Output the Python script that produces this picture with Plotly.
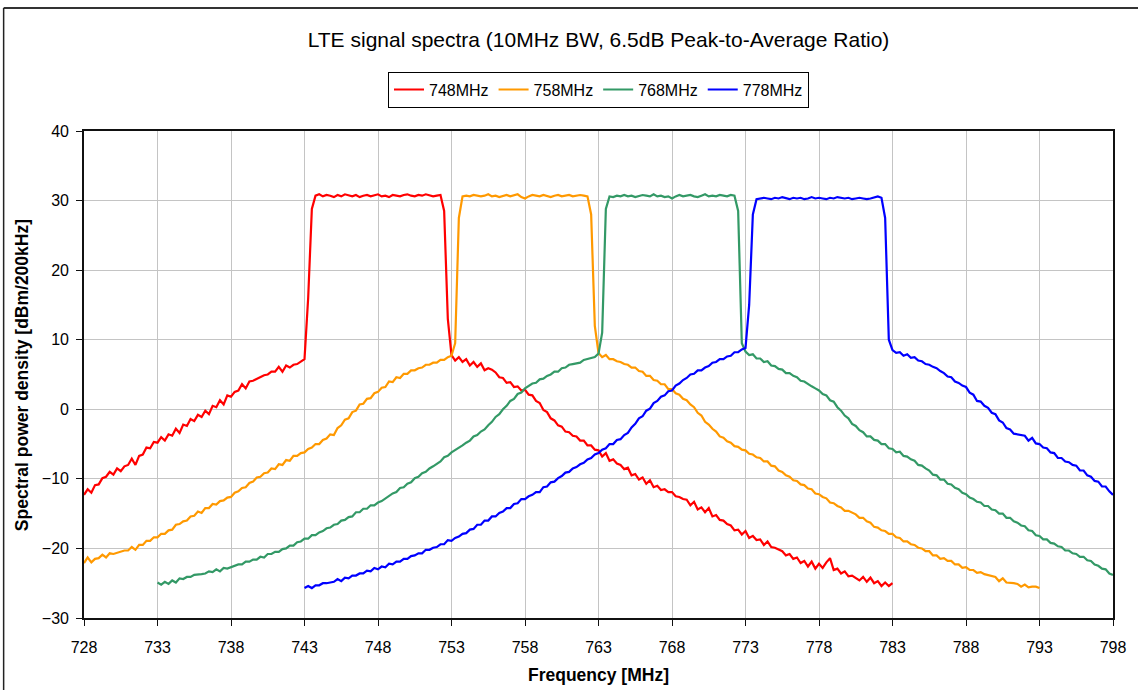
import plotly.graph_objects as go

# Sweep grid of the spectrum analyser (MHz)
STEP_MHZ = 0.25

CARRIERS = ["748MHz", "758MHz", "768MHz", "778MHz"]
COLORS = ["#FF0000", "#FF9900", "#339966", "#0000FF"]
START_MHZ = [728.0, 728.0, 733.0, 743.0]

# Measured power density, dBm/200kHz, one value per sweep point
P_748 = [
    -12.3, -11.5, -12.0, -10.9, -10.8, -9.9, -9.7, -9.0,
    -9.4, -8.5, -8.9, -8.2, -8.0, -7.1, -8.0, -6.7,
    -6.5, -5.5, -5.6, -4.7, -4.8, -4.0, -4.5, -3.6,
    -3.8, -2.8, -3.4, -2.2, -2.4, -1.4, -1.7, -0.8,
    -1.1, -0.2, -0.7, 0.5, 0.3, 1.3, 0.7, 2.0,
    1.8, 2.5, 2.7, 3.6, 3.0, 4.0, 4.1, 4.4,
    4.6, 4.9, 5.0, 5.4, 5.4, 6.1, 5.4, 6.3,
    6.0, 6.4, 6.5, 6.9, 7.2, 16.0, 28.8,
    30.7, 30.9, 30.6, 30.8, 30.7, 30.5, 30.8, 30.6, 30.9, 30.7,
    30.6, 30.8, 30.5, 30.7, 30.8, 30.6, 30.7, 30.9, 30.6, 30.7,
    30.5, 30.8, 30.7, 30.6, 30.8, 30.9, 30.7, 30.6, 30.8, 30.7,
    30.9, 30.8, 30.6, 30.7, 30.8,
    28.5, 13.0, 7.8,
    7.0, 7.5, 6.8, 7.2, 6.3, 6.8, 6.1, 6.6,
    5.6, 5.9, 5.7, 5.3, 4.6, 4.5, 3.8, 3.9,
    3.2, 3.3, 2.7, 2.8, 2.1, 2.0, 1.2, 0.9,
    -0.1, -0.4, -1.3, -1.6, -2.3, -2.5, -3.2, -3.3,
    -3.8, -3.9, -4.5, -4.5, -5.2, -5.2, -5.8, -5.9,
    -6.8, -6.3, -7.4, -7.2, -7.8, -8.0, -8.6, -8.4,
    -9.5, -9.3, -10.1, -9.8, -10.7, -10.2, -11.2, -11.0,
    -11.6, -11.5, -11.9, -11.9, -12.5, -12.6, -12.9, -13.0,
    -13.8, -13.3, -14.4, -14.1, -14.8, -14.2, -15.4, -15.2,
    -15.9, -16.0, -16.5, -16.7, -17.4, -17.3, -18.0, -17.5,
    -18.5, -18.2, -18.8, -18.7, -19.5, -19.0, -19.8, -19.9,
    -20.2, -20.4, -21.0, -20.8, -21.5, -21.3, -22.1, -21.8,
    -22.6, -21.9, -22.9, -22.2, -22.8, -22.0, -21.4, -23.1,
    -22.9, -23.6, -23.3, -24.0, -23.9, -24.2, -24.6, -24.1,
    -24.8, -24.2, -25.0, -24.7, -25.4, -24.9, -25.4, -25.0,
]

P_758 = [
    -22.1, -21.3, -22.0, -21.5, -21.4, -20.9, -21.3, -20.7,
    -20.8, -20.6, -20.5, -20.3, -20.3, -19.8, -20.2, -19.5,
    -19.5, -18.9, -18.9, -18.4, -18.4, -17.9, -17.9, -17.4,
    -17.3, -16.6, -16.5, -16.1, -16.0, -15.4, -15.3, -14.7,
    -14.9, -14.2, -14.2, -13.6, -13.7, -13.2, -13.1, -12.7,
    -12.6, -12.0, -11.8, -11.3, -11.2, -10.6, -10.4, -9.8,
    -9.7, -9.2, -9.1, -8.5, -8.6, -7.9, -8.0, -7.3,
    -7.4, -6.7, -6.7, -6.3, -6.2, -5.7, -5.5, -5.0,
    -5.0, -4.4, -4.2, -3.6, -3.7, -2.7, -2.3, -1.5,
    -1.3, -0.4, -0.2, 0.7, 0.8, 1.5, 1.6, 2.3,
    2.5, 3.1, 3.2, 4.0, 3.9, 4.6, 4.5, 5.1,
    5.1, 5.6, 5.6, 5.9, 6.0, 6.4, 6.4, 6.7,
    6.7, 7.1, 7.1, 7.5, 7.7, 9.5, 27.5,
    30.6, 30.7, 30.6, 30.8, 30.7, 30.6, 30.7, 30.9, 30.6, 30.7,
    30.5, 30.7, 30.8, 30.6, 30.7, 30.9, 30.5, 30.3, 30.6, 30.8,
    30.7, 30.6, 30.8, 30.7, 30.5, 30.7, 30.8, 30.6, 30.7, 30.8,
    30.6, 30.7, 30.8, 30.7, 30.6,
    28.0, 12.0,
    8.1, 7.5, 7.8, 7.2, 7.2, 6.9, 6.8, 6.5,
    6.4, 6.0, 6.0, 5.5, 5.4, 4.8, 4.8, 4.2,
    4.1, 3.6, 3.6, 2.9, 2.9, 2.3, 2.1, 1.5,
    1.3, 0.7, 0.3, -0.5, -0.9, -1.8, -2.2, -2.8,
    -3.2, -3.9, -4.1, -4.6, -4.8, -5.3, -5.4, -5.8,
    -5.9, -6.4, -6.5, -6.9, -7.0, -7.5, -7.5, -8.1,
    -8.2, -8.8, -9.0, -9.5, -9.7, -10.2, -10.3, -10.8,
    -10.9, -11.4, -11.5, -12.1, -12.2, -12.6, -12.8, -13.4,
    -13.5, -13.9, -14.1, -14.6, -14.6, -14.9, -15.1, -15.6,
    -15.6, -16.1, -16.3, -16.9, -17.0, -17.4, -17.5, -17.9,
    -17.9, -18.4, -18.5, -19.0, -19.0, -19.4, -19.5, -19.9,
    -20.0, -20.4, -20.4, -21.0, -21.0, -21.5, -21.4, -21.8,
    -21.8, -22.3, -22.3, -22.8, -22.7, -23.1, -23.1, -23.5,
    -23.4, -23.7, -23.8, -23.9, -24.1, -24.7, -24.3, -24.9,
    -24.9, -25.0, -25.1, -25.5, -25.2, -25.6, -25.5, -25.5,
    -25.7,
]

P_768 = [
    -24.9, -25.2, -24.8, -25.1, -24.6, -24.9, -24.3, -24.4,
    -24.1, -24.1, -23.8, -23.8, -23.7, -23.6, -23.3, -23.4,
    -23.0, -23.3, -22.8, -22.9, -22.7, -22.6, -22.3, -22.3,
    -21.9, -21.9, -21.6, -21.6, -21.2, -21.3, -20.8, -20.8,
    -20.5, -20.5, -20.1, -20.0, -19.6, -19.6, -19.1, -19.0,
    -18.6, -18.6, -18.1, -18.1, -17.7, -17.5, -17.1, -17.0,
    -16.6, -16.5, -16.0, -15.9, -15.5, -15.4, -14.8, -14.8,
    -14.3, -14.3, -13.8, -13.8, -13.4, -13.2, -12.8, -12.5,
    -12.1, -11.9, -11.3, -11.2, -10.7, -10.5, -9.9, -9.7,
    -9.2, -9.0, -8.5, -8.2, -7.8, -7.5, -6.9, -6.7,
    -6.2, -5.9, -5.5, -5.2, -4.8, -4.5, -3.9, -3.7,
    -3.2, -2.9, -2.3, -1.8, -1.1, -0.7, 0.0, 0.5,
    1.2, 1.5, 2.2, 2.4, 3.0, 3.3, 3.7, 3.8,
    4.3, 4.4, 4.8, 5.0, 5.4, 5.4, 5.9, 6.0,
    6.4, 6.5, 6.6, 6.7, 7.1, 7.2, 7.3, 7.5,
    8.0, 11.0, 28.8,
    30.6, 30.5, 30.7, 30.6, 30.8, 30.6, 30.7, 30.5, 30.6, 30.8,
    30.7, 30.6, 30.9, 30.6, 30.7, 30.5, 30.6, 30.3, 30.6, 30.8,
    30.6, 30.7, 30.8, 30.6, 30.5, 30.7, 30.9, 30.6, 30.7, 30.6,
    30.8, 30.7, 30.6, 30.8, 30.7,
    28.5, 9.5,
    8.3, 7.8, 7.9, 7.3, 7.3, 6.8, 6.9, 6.3,
    6.2, 5.8, 5.7, 5.2, 5.2, 4.8, 4.6, 4.1,
    4.0, 3.6, 3.3, 3.0, 2.7, 2.2, 2.0, 1.3,
    1.1, 0.3, -0.2, -0.9, -1.3, -2.1, -2.4, -3.0,
    -3.3, -3.9, -3.9, -4.4, -4.5, -5.0, -5.0, -5.6,
    -5.7, -6.2, -6.1, -6.7, -6.8, -7.2, -7.4, -8.0,
    -8.1, -8.5, -8.8, -9.4, -9.5, -10.1, -10.1, -10.7,
    -10.8, -11.3, -11.5, -12.0, -12.2, -12.7, -12.9, -13.3,
    -13.4, -13.9, -13.9, -14.4, -14.5, -15.0, -15.0, -15.6,
    -15.6, -16.1, -16.3, -16.7, -16.8, -17.4, -17.5, -18.1,
    -18.2, -18.7, -18.7, -19.2, -19.3, -19.7, -19.8, -20.3,
    -20.3, -20.7, -20.8, -21.2, -21.2, -21.7, -21.8, -22.3,
    -22.5, -22.9, -23.0, -23.6, -23.8,
]

P_778 = [
    -25.7, -25.4, -25.7, -25.3, -25.3, -25.0, -25.0, -24.9,
    -24.8, -24.4, -24.7, -24.2, -24.3, -23.9, -23.9, -23.6,
    -23.6, -23.2, -23.3, -22.8, -23.0, -22.6, -22.7, -22.2,
    -22.3, -21.9, -21.9, -21.5, -21.5, -21.1, -21.0, -20.7,
    -20.7, -20.2, -20.2, -19.9, -19.8, -19.4, -19.4, -18.8,
    -18.9, -18.5, -18.3, -17.9, -17.8, -17.3, -17.2, -16.6,
    -16.6, -16.0, -16.0, -15.4, -15.4, -14.9, -14.7, -14.2,
    -14.2, -13.6, -13.5, -12.9, -12.9, -12.5, -12.3, -11.9,
    -11.9, -11.2, -11.1, -10.5, -10.4, -9.9, -9.6, -9.1,
    -9.0, -8.5, -8.3, -7.9, -7.7, -7.2, -7.0, -6.5,
    -6.3, -5.8, -5.6, -5.0, -5.0, -4.4, -4.3, -3.7,
    -3.4, -2.6, -2.1, -1.3, -1.0, -0.2, 0.1, 0.9,
    1.2, 1.8, 2.0, 2.6, 2.7, 3.4, 3.7, 4.2,
    4.5, 5.0, 5.1, 5.6, 5.6, 6.0, 6.2, 6.7,
    6.8, 7.2, 7.2, 7.6, 7.7, 8.2, 8.2, 8.6,
    8.8, 15.0, 28.0,
    30.2, 30.3, 30.4, 30.3, 30.2, 30.4, 30.3, 30.5, 30.3, 30.2,
    30.4, 30.3, 30.4, 30.2, 30.3, 30.5, 30.3, 30.4, 30.3, 30.2,
    30.4, 30.3, 30.5, 30.4, 30.3, 30.4, 30.2, 30.3, 30.4, 30.3,
    30.2, 30.3, 30.5, 30.6, 30.4,
    27.5, 10.0,
    8.5, 8.1, 8.2, 7.7, 7.9, 7.4, 7.5, 7.0,
    6.9, 6.5, 6.4, 6.1, 5.9, 5.5, 5.2, 4.7,
    4.6, 4.0, 3.8, 3.4, 3.2, 2.4, 2.1, 1.2,
    1.1, 0.5, 0.2, -0.5, -0.7, -1.6, -1.9, -2.7,
    -2.9, -3.5, -3.6, -3.7, -3.8, -4.5, -4.1, -4.9,
    -5.0, -5.5, -5.6, -6.2, -6.3, -7.0, -7.0, -7.5,
    -7.6, -8.0, -8.1, -8.8, -8.8, -9.5, -9.7, -10.3,
    -10.4, -11.1, -11.1, -11.8, -12.3,
]

SERIES = [P_748, P_758, P_768, P_778]

X_TICKS = list(range(728, 799, 5))
Y_TICKS = list(range(-30, 41, 10))

FONT = "Arial, 'Liberation Sans', sans-serif"

fig = go.Figure()
for name, color, f0, vals in zip(CARRIERS, COLORS, START_MHZ, SERIES):
    freqs = [round(f0 + STEP_MHZ * i, 3) for i in range(len(vals))]
    fig.add_trace(go.Scatter(
        x=freqs, y=vals, name=name, mode="lines",
        line=dict(color=color, width=2.2),
    ))

axis_common = dict(
    showgrid=True, gridcolor="#C4C4C4", gridwidth=1.2,
    showline=True, linecolor="#111111", linewidth=1.6, mirror=True,
    ticks="outside", ticklen=6, tickcolor="#111111", tickwidth=1.2,
    zeroline=False,
    tickfont=dict(family=FONT, size=16, color="#000000"),
)

fig.update_layout(
    width=1138, height=690,
    margin=dict(l=84, r=23, t=131, b=72),
    paper_bgcolor="white", plot_bgcolor="white",
    font=dict(family=FONT, color="#000000"),
    title=dict(
        text="LTE signal spectra (10MHz BW, 6.5dB Peak-to-Average Ratio)",
        x=0.5, xref="paper", xanchor="center",
        y=1 - 40 / 690, yref="container", yanchor="middle",
        font=dict(family=FONT, size=21, color="#000000"),
    ),
    legend=dict(
        orientation="h", x=0.5, xanchor="center", y=1.085, yanchor="middle",
        bordercolor="#000000", borderwidth=1, bgcolor="white",
        font=dict(family=FONT, size=16, color="#000000"),
        itemwidth=30, tracegroupgap=0,
    ),
    showlegend=True,
    xaxis=dict(range=[728, 798], tickvals=X_TICKS, ticklabelstandoff=8,
               **axis_common),
    yaxis=dict(range=[-30, 40], tickvals=Y_TICKS, ticklabelstandoff=4,
               **axis_common),
)

# Axis titles
fig.add_annotation(
    text="<b>Frequency [MHz]</b>", xref="paper", yref="paper",
    x=0.5, y=-0.117, xanchor="center", yanchor="middle", showarrow=False,
    font=dict(family=FONT, size=17.5, color="#000000"),
)
fig.add_annotation(
    text="<b>Spectral power density [dBm/200kHz]</b>", xref="paper", yref="paper",
    x=-0.0601, y=0.499, xanchor="center", yanchor="middle", showarrow=False,
    textangle=-90, font=dict(family=FONT, size=17.5, color="#000000"),
)

# Chart frame (top and left edges fall inside the canvas)
fig.add_shape(type="line", xref="paper", yref="paper",
              x0=-0.0781, y0=1.2526, x1=1.06, y1=1.2526,
              line=dict(color="#333333", width=2))
fig.add_shape(type="line", xref="paper", yref="paper",
              x0=-0.0781, y0=1.2526, x1=-0.0781, y1=-0.16,
              line=dict(color="#222222", width=1.5))

fig.write_html("out.html")
